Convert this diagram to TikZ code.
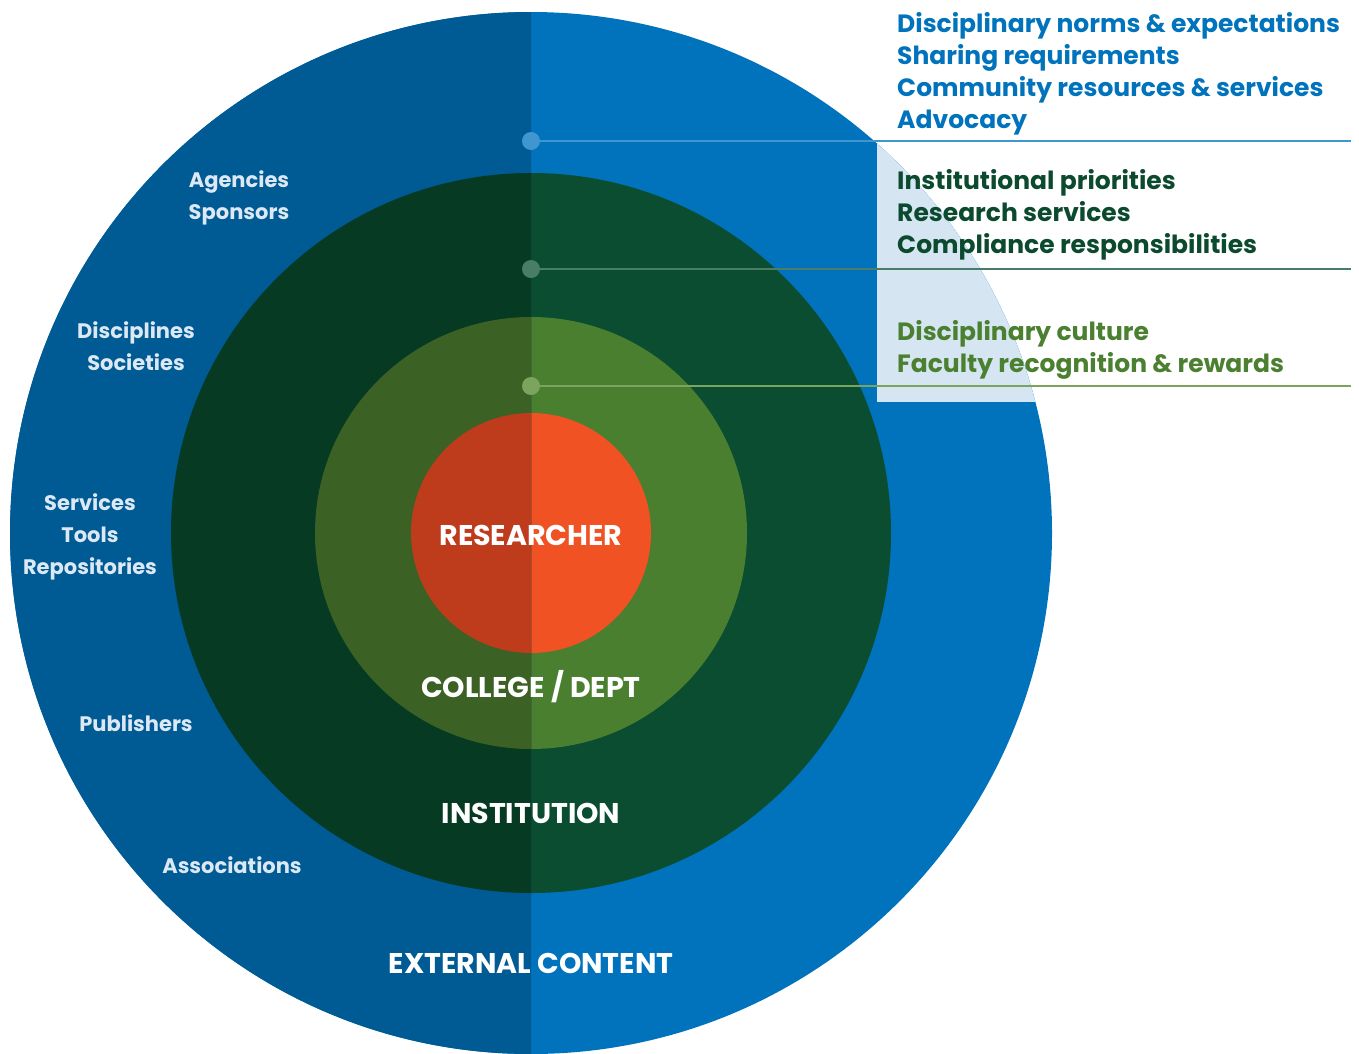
\documentclass[tikz,border=0pt]{standalone}
\usepackage{fontspec}
\setmainfont{Poppins}
\definecolor{outR}{HTML}{0073BC}
\definecolor{outL}{HTML}{005A94}
\definecolor{insR}{HTML}{0A4D30}
\definecolor{insL}{HTML}{063A22}
\definecolor{colR}{HTML}{4A7F30}
\definecolor{colL}{HTML}{3B6124}
\definecolor{resR}{HTML}{F05224}
\definecolor{resL}{HTML}{BE3B1C}
\definecolor{boxbg}{HTML}{D5E6F2}
\definecolor{lbl}{HTML}{DCE9F4}
\definecolor{dotA}{HTML}{4096CE}
\definecolor{dotB}{HTML}{4A7D68}
\definecolor{dotC}{HTML}{7BA45F}
\definecolor{txtA}{HTML}{0073BC}
\definecolor{txtB}{HTML}{0B4A2E}
\definecolor{txtC}{HTML}{4A8030}
\tikzset{
  ringlbl/.style={text=lbl,font=\bfseries\fontsize{21}{24}\selectfont,align=center,inner sep=0pt,anchor=base},
  centlbl/.style={text=white,font=\bfseries\fontsize{28.5}{32}\selectfont,inner sep=0pt,anchor=base},
  sidelbl/.style={font=\bfseries\fontsize{25}{32}\selectfont,inner sep=0pt,anchor=base west},
  leader/.style={line width=2.5pt},
}
\begin{document}
\begin{tikzpicture}[x=1pt,y=-1pt]
\useasboundingbox (0,0) rectangle (1359,1053);
\coordinate (C) at (531,533);
% right halves (full circles)
\fill[outR] (C) circle (521);
\begin{scope}
  \clip (C) circle (521);
  \fill[boxbg] (877,141) rectangle (1359,402);
\end{scope}
\fill[insR] (C) circle (360);
\fill[colR] (C) circle (216);
\fill[resR] (C) circle (120);
% left halves
\begin{scope}
  \clip (0,0) rectangle (531,1053);
  \fill[outL] (C) circle (521);
  \fill[insL] (C) circle (360);
  \fill[colL] (C) circle (216);
  \fill[resL] (C) circle (120);
\end{scope}
% leaders
\coordinate (eA) at (1351,141);
\coordinate (eB) at (1351,269);
\coordinate (eC) at (1351,386);
\node[circle,fill=dotA,minimum size=18pt,inner sep=0pt] (dA) at (531,141) {};
\node[circle,fill=dotB,minimum size=18pt,inner sep=0pt] (dB) at (531,269) {};
\node[circle,fill=dotC,minimum size=18pt,inner sep=0pt] (dC) at (531,386) {};
\draw[leader,dotA] (dA.center) -- (eA);
\draw[leader,dotB] (dB.center) -- (eB);
\draw[leader,dotC] (dC.center) -- (eC);
% side texts
\node[sidelbl,text=txtA] (a1) at (897,32) {Disciplinary norms \& expectations};
\node[sidelbl,text=txtA] (a2) at (897,64) {Sharing requirements};
\node[sidelbl,text=txtA] (a3) at (897,96) {Community resources \& services};
\node[sidelbl,text=txtA] (a4) at (897,128) {Advocacy};
\node[sidelbl,text=txtB] (b1) at (897,189) {Institutional priorities};
\node[sidelbl,text=txtB] (b2) at (897,221) {Research services};
\node[sidelbl,text=txtB] (b3) at (897,253) {Compliance responsibilities};
\node[sidelbl,text=txtC] (c1) at (897,340) {Disciplinary culture};
\node[sidelbl,text=txtC] (c2) at (897,372) {Faculty recognition \& rewards};
% ring labels
\node[ringlbl] (l1) at (239,187) {Agencies};
\node[ringlbl] (l2) at (239,219) {Sponsors};
\node[ringlbl] (l3) at (136,338) {Disciplines};
\node[ringlbl] (l4) at (136,370) {Societies};
\node[ringlbl] (l5) at (90,510) {Services};
\node[ringlbl] (l6) at (90,542) {Tools};
\node[ringlbl] (l7) at (90,574) {Repositories};
\node[ringlbl] (l8) at (136,731) {Publishers};
\node[ringlbl] (l9) at (232,873) {Associations};
% centre labels
\node[centlbl] (r) at (531,545) {RESEARCHER};
\node[centlbl] (cd) at (531,697) {COLLEGE / DEPT};
\node[centlbl] (in) at (531,823) {INSTITUTION};
\node[centlbl] (ex) at (531,973) {EXTERNAL CONTENT};
\end{tikzpicture}
\end{document}
